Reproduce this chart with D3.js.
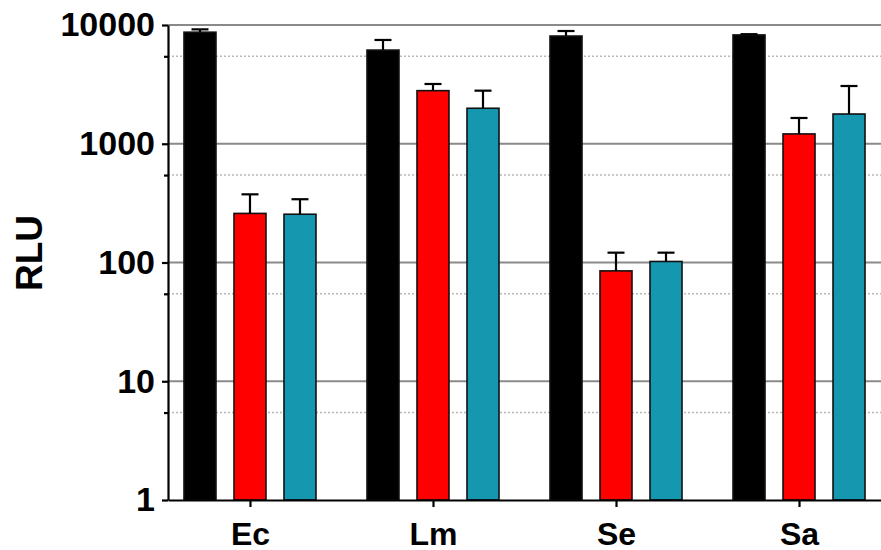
<!DOCTYPE html>
<html>
<head>
<meta charset="utf-8">
<script src="https://cdn.jsdelivr.net/npm/d3@7/dist/d3.min.js"></script>
<style>
  html, body { margin: 0; padding: 0; background: #fff; }
  svg { display: block; font-family: "Liberation Sans", Arial, Helvetica, sans-serif; }
</style>
</head>
<body>
<svg id="chart" width="881" height="550"></svg>
<script>
// Bacterial strains on the x axis
const categories = ["Ec", "Lm", "Se", "Sa"];

// Three conditions per strain (mean RLU and upper error)
const seriesKeys = ["black", "red", "teal"];
const seriesColors = ["#000000", "#ff0000", "#1597b0"];

const blackMeans = [8700, 6150, 8075, 8250];
const blackErrors = [490, 1330, 825, 120];

const redMeans = [259, 2800, 85, 1210];
const redErrors = [116, 386, 36, 438];

const tealMeans = [255, 1990, 102, 1780];
const tealErrors = [86, 809, 19, 1284];

// Axis ticks
const majorTicks = [1, 10, 100, 1000, 10000];
const minorTicks = [5.45, 54.5, 545, 5450];
const yLabel = "RLU";

const means = [blackMeans, redMeans, tealMeans];
const errors = [blackErrors, redErrors, tealErrors];

const rows = [];
categories.forEach((c, ci) => {
  seriesKeys.forEach((k, si) => {
    rows.push({ cat: c, key: k, color: seriesColors[si], value: means[si][ci], err: errors[si][ci] });
  });
});

const svg = d3.select("#chart");
const plotLeft = 168, plotRight = 881, plotTop = 25, plotBottom = 500;

const y = d3.scaleLog().domain([1, 10000]).range([plotBottom, plotTop]);
const x = d3.scalePoint().domain(categories).range([plotLeft, plotRight]).padding(0.448);
const xs = d3.scaleBand().domain(seriesKeys).range([-75, 75]).paddingInner(0.36).paddingOuter(0.18);

// Grid lines
const grid = svg.append("g");
grid.selectAll("line.minor").data(minorTicks).join("line")
  .attr("class", "minor")
  .attr("x1", plotLeft).attr("x2", plotRight)
  .attr("y1", d => y(d)).attr("y2", d => y(d))
  .attr("stroke", "#b8b8b8").attr("stroke-width", 1.5).attr("stroke-dasharray", "2,2");
grid.selectAll("line.major").data(majorTicks.filter(d => d > 1)).join("line")
  .attr("class", "major")
  .attr("x1", plotLeft).attr("x2", plotRight)
  .attr("y1", d => y(d)).attr("y2", d => y(d))
  .attr("stroke", "#8a8a8a").attr("stroke-width", 2.2);

// Bars
const bars = svg.append("g");
bars.selectAll("rect").data(rows).join("rect")
  .attr("x", d => x(d.cat) + xs(d.key))
  .attr("y", d => y(d.value))
  .attr("width", xs.bandwidth())
  .attr("height", d => y(1) - y(d.value))
  .attr("fill", d => d.color)
  .attr("stroke", "#111")
  .attr("stroke-width", 1.6);

// Upper error bars
const eb = svg.append("g").attr("stroke", "#000").attr("stroke-width", 2.2);
rows.forEach(d => {
  const cx = x(d.cat) + xs(d.key) + xs.bandwidth() / 2;
  eb.append("line").attr("x1", cx).attr("x2", cx)
    .attr("y1", y(d.value)).attr("y2", y(d.value + d.err));
  eb.append("line").attr("x1", cx - 8.5).attr("x2", cx + 8.5)
    .attr("y1", y(d.value + d.err)).attr("y2", y(d.value + d.err));
});

// Y axis
const yAxis = svg.append("g").attr("transform", `translate(${plotLeft},0)`)
  .call(d3.axisLeft(y).tickValues(majorTicks).tickFormat(d3.format("d"))
    .tickSize(6).tickSizeOuter(0).tickPadding(7));
yAxis.select(".domain").attr("stroke", "#000").attr("stroke-width", 2.2);
yAxis.selectAll(".tick line").attr("stroke", "#000").attr("stroke-width", 2.2);
yAxis.selectAll(".tick text").attr("font-size", 34).attr("font-weight", "bold").attr("fill", "#000");

svg.append("g").attr("transform", `translate(${plotLeft},0)`)
  .call(d3.axisLeft(y).tickValues(minorTicks).tickFormat("").tickSize(4).tickSizeOuter(0))
  .call(g => g.select(".domain").remove())
  .call(g => g.selectAll(".tick line").attr("stroke", "#000").attr("stroke-width", 2.2));

// X axis
const xAxis = svg.append("g").attr("transform", `translate(0,${plotBottom})`)
  .call(d3.axisBottom(x).tickSize(7).tickSizeOuter(0).tickPadding(15));
xAxis.select(".domain").attr("stroke", "#000").attr("stroke-width", 2.2);
xAxis.selectAll(".tick line").attr("stroke", "#000").attr("stroke-width", 2.2);
xAxis.selectAll(".tick text").attr("font-size", 32).attr("font-weight", "bold").attr("fill", "#000");

// Y axis title
svg.append("text")
  .attr("transform", "translate(42,253) rotate(-90)")
  .attr("text-anchor", "middle")
  .attr("font-size", 37).attr("font-weight", "bold").attr("fill", "#000")
  .text(yLabel);
</script>
</body>
</html>
